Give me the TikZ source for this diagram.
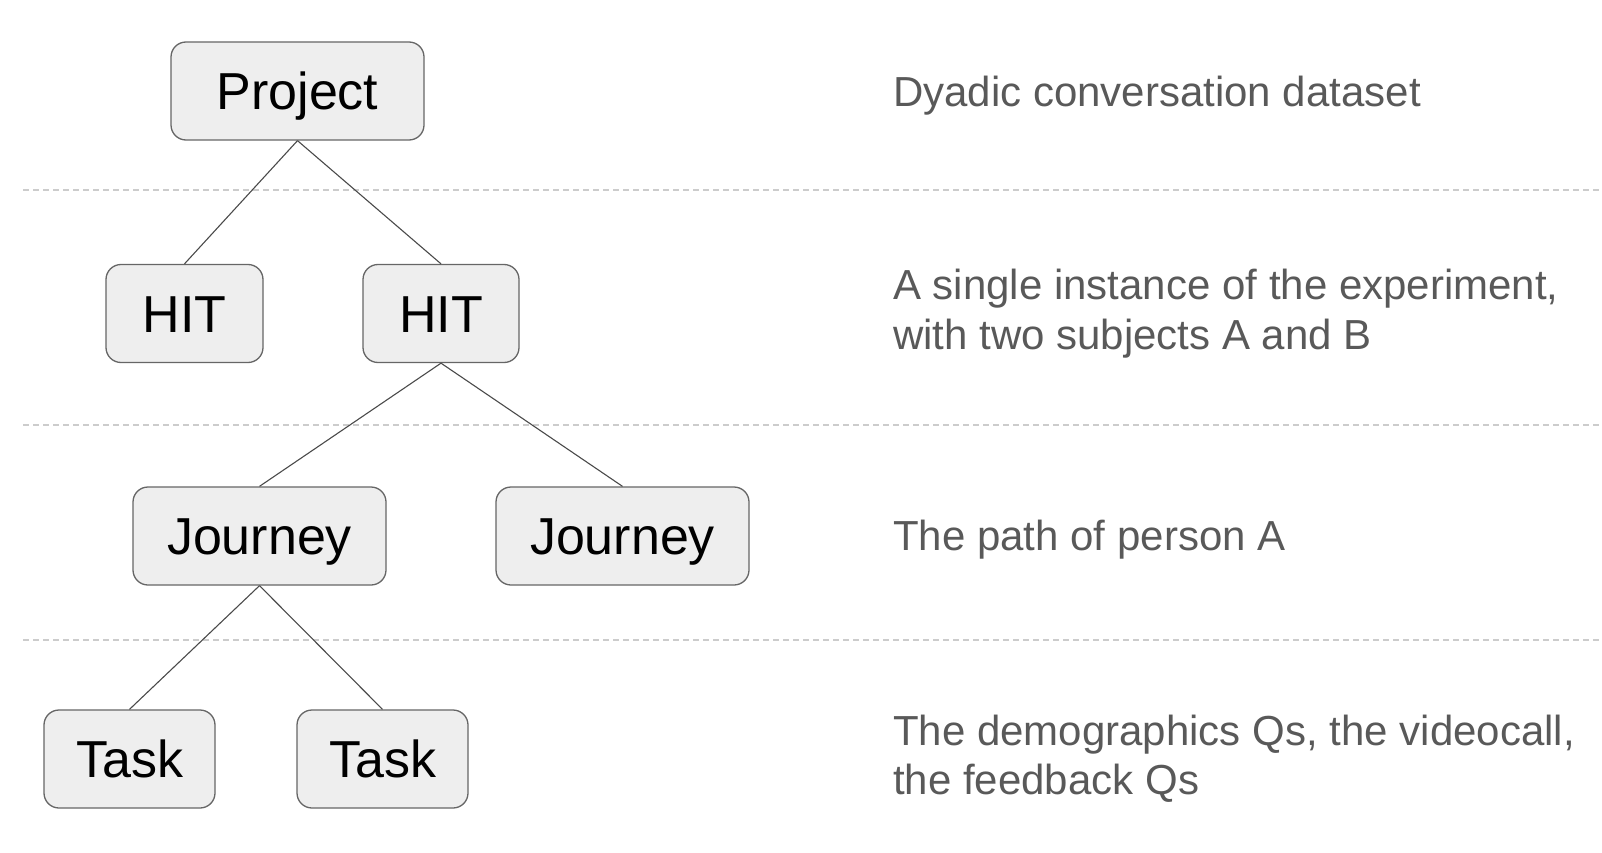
\documentclass[tikz,border=0pt]{standalone}
\usepackage{fontspec}
\setmainfont{Liberation Sans}
\definecolor{boxfill}{HTML}{EEEEEE}
\definecolor{boxdraw}{HTML}{666666}
\definecolor{linecol}{HTML}{4A4A4A}
\definecolor{sepcol}{HTML}{CCCCCC}
\definecolor{desccol}{HTML}{595959}
\begin{document}
\begin{tikzpicture}[x=1pt,y=-1pt,
  treebox/.style={draw=boxdraw, fill=boxfill, line width=1.3pt, rounded corners=15pt,
    inner sep=0pt, text height=37pt, text depth=0pt, minimum height=98pt,
    font=\fontsize{52}{60}\selectfont},
  conn/.style={draw=linecol, line width=1.1pt},
  sep/.style={draw=sepcol, line width=1.1pt, dash pattern=on 6pt off 4pt},
  desc/.style={anchor=base west, text=desccol, inner sep=0pt, font=\fontsize{42}{50}\selectfont}]
\useasboundingbox (0,0) rectangle (1602,853);
% separators
\coordinate (s1a) at (23,190); \coordinate (s1b) at (1602,190);
\coordinate (s2a) at (23,425); \coordinate (s2b) at (1602,425);
\coordinate (s3a) at (23,640); \coordinate (s3b) at (1602,640);
\draw[sep] (s1a) -- (s1b);
\draw[sep] (s2a) -- (s2b);
\draw[sep] (s3a) -- (s3b);
% boxes
\node[treebox, minimum width=253pt] (proj) at (297.5,91) {Project};
\node[treebox, minimum width=157pt] (hit1) at (184.5,313.5) {HIT};
\node[treebox, minimum width=156pt] (hit2) at (441,313.5) {HIT};
\node[treebox, minimum width=253pt] (j1) at (259.5,536) {Journey};
\node[treebox, minimum width=253pt] (j2) at (622.5,536) {Journey};
\node[treebox, minimum width=171pt] (t1) at (129.5,759) {Task};
\node[treebox, minimum width=171pt] (t2) at (382.5,759) {Task};
% connectors
\draw[conn] (proj.south) -- (hit1.north);
\draw[conn] (proj.south) -- (hit2.north);
\draw[conn] (hit2.south) -- (j1.north);
\draw[conn] (hit2.south) -- (j2.north);
\draw[conn] (j1.south) -- (t1.north);
\draw[conn] (j1.south) -- (t2.north);
% descriptions
\node[desc] (d1) at (893,107) {Dyadic conversation dataset};
\node[desc] (d2a) at (893,299) {A single instance of the experiment,};
\node[desc] (d2b) at (893,349) {with two subjects A and B};
\node[desc] (d3) at (893,550) {The path of person A};
\node[desc] (d4a) at (893,745) {The demographics Qs, the videocall,};
\node[desc] (d4b) at (893,794) {the feedback Qs};
\end{tikzpicture}
\end{document}
